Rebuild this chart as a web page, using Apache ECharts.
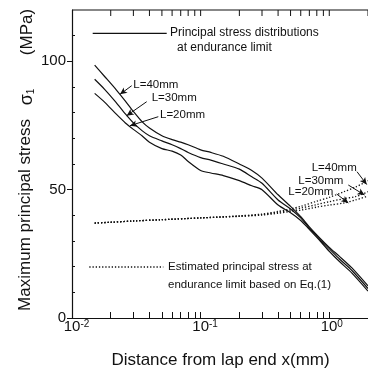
<!DOCTYPE html>
<html><head><meta charset="utf-8">
<script src="https://cdn.jsdelivr.net/npm/echarts@6/dist/echarts.min.js"></script>
<style>html,body{margin:0;padding:0;background:#fff}#c{width:368px;height:374px}</style>
</head><body><div id="c"></div>
<script>
// ---- data ----
const xSolid = [0.015, 0.018, 0.022, 0.026, 0.03, 0.035, 0.04, 0.05, 0.06, 0.07, 0.08, 0.1, 0.12, 0.15, 0.2, 0.25, 0.3, 0.4, 0.5, 0.6, 0.7, 0.85, 1.0, 1.2, 1.5, 2.0];
const solidL40 = [98.5, 94, 89, 84.5, 80.5, 76.5, 74, 71, 69.5, 68.5, 67.5, 65.5, 64.5, 63, 60, 57.5, 54.5, 48, 43.5, 39.5, 35.5, 31, 27.5, 24, 19.5, 12.5];
const solidL30 = [93, 89, 84, 79.5, 76, 73, 71, 69, 67.5, 66, 64.5, 62.5, 61.5, 60, 58, 55, 52.5, 46, 42.5, 39, 35, 30.5, 27, 23, 18.5, 11.5];
const solidL20 = [87.5, 84, 79.5, 76, 73.5, 71, 68.5, 66, 65, 63.5, 61, 57.5, 56.5, 55.5, 53.5, 51.5, 50, 44, 41, 38, 34.5, 30, 26, 22, 17.5, 10.5];

const xEst = [0.015, 0.02, 0.03, 0.05, 0.1, 0.2, 0.3, 0.4, 0.5, 0.6, 0.8, 1.0, 1.3, 1.6, 2.0];
const estL40 = [37, 37.3, 37.8, 38.3, 39, 39.8, 40.5, 41.5, 42.5, 43.5, 45.5, 47, 49.2, 51, 53.5];
const estL30 = [37, 37.3, 37.8, 38.3, 39, 39.7, 40.3, 41.2, 42, 42.8, 44.2, 45.3, 46.5, 47.3, 49.2];
const estL20 = [37, 37.3, 37.8, 38.3, 39, 39.6, 40.1, 40.8, 41.5, 42, 43.2, 44, 44.8, 46, 47.5];

const xLabelValues = [0.01, 0.1, 1];
const xTickValues = [0.02, 0.03, 0.04, 0.05, 0.06, 0.07, 0.08, 0.09, 0.1, 0.2, 0.3, 0.4, 0.5, 0.6, 0.7, 0.8, 0.9, 1, 2];
const yLabelValues = [0, 50, 100];
const yMinorTicks = [10, 20, 30, 40, 60, 70, 80, 90, 110];

// ---- chart ----
const FONT = '"Liberation Sans", Arial, Helvetica, sans-serif';
const INK = '#111';
const X_MIN = 0.01, X_MAX = 2, Y_MIN = 0, Y_MAX = 120;
const chart = echarts.init(document.getElementById('c'), null, {renderer: 'canvas'});
function pairs(xs, ys) { return xs.map((x, i) => [x, ys[i]]); }
function xFmt(v) {
  const e = Math.round(Math.log10(v));
  return (e < 0 ? '{bn|10}' : '{b0|10}') + '{s|' + e + '}';
}

const solidStyle = {color: INK, width: 1.2};
const dotStyle = {color: INK, width: 1.3, type: [1.3, 1.9]};
const tickLine = {color: INK, width: 1};

const graphics = [
  // legend-like keys
  {type: 'line', shape: {x1: 92.7, y1: 33.3, x2: 166.7, y2: 33.3}, style: {stroke: INK, lineWidth: 1.2}},
  {type: 'text', x: 170, y: 33, style: {text: 'Principal stress distributions', font: '12px ' + FONT, fill: INK, textVerticalAlign: 'middle'}},
  {type: 'text', x: 177, y: 48, style: {text: 'at endurance limit', font: '12px ' + FONT, fill: INK, textVerticalAlign: 'middle'}},
  {type: 'line', shape: {x1: 89.3, y1: 267, x2: 163.3, y2: 267}, style: {stroke: INK, lineWidth: 1.3, lineDash: [1.3, 1.9]}},
  {type: 'text', x: 168, y: 267, style: {text: 'Estimated principal stress at', font: '11.5px ' + FONT, fill: INK, textVerticalAlign: 'middle'}},
  {type: 'text', x: 168, y: 285, style: {text: 'endurance limit based on Eq.(1)', font: '11.5px ' + FONT, fill: INK, textVerticalAlign: 'middle'}},
  // curve labels
  {type: 'text', x: 133.3, y: 85, style: {text: 'L=40mm', font: '11.5px ' + FONT, fill: INK, textVerticalAlign: 'middle'}},
  {type: 'text', x: 151.7, y: 98.3, style: {text: 'L=30mm', font: '11.5px ' + FONT, fill: INK, textVerticalAlign: 'middle'}},
  {type: 'text', x: 160, y: 115, style: {text: 'L=20mm', font: '11.5px ' + FONT, fill: INK, textVerticalAlign: 'middle'}},
  {type: 'text', x: 311.7, y: 168.3, style: {text: 'L=40mm', font: '11.5px ' + FONT, fill: INK, textVerticalAlign: 'middle'}},
  {type: 'text', x: 298.3, y: 180.7, style: {text: 'L=30mm', font: '11.5px ' + FONT, fill: INK, textVerticalAlign: 'middle'}},
  {type: 'text', x: 288.3, y: 191.7, style: {text: 'L=20mm', font: '11.5px ' + FONT, fill: INK, textVerticalAlign: 'middle'}},
  // axis titles
  {type: 'text', x: 220.5, y: 360, style: {text: 'Distance from lap end x(mm)', font: '17px ' + FONT, fill: INK, textAlign: 'center', textVerticalAlign: 'middle'}},
  {type: 'text', x: 25, y: 215, rotation: Math.PI / 2, style: {text: 'Maximum principal stress', font: '17px ' + FONT, fill: INK, textAlign: 'center', textVerticalAlign: 'middle'}},
  {type: 'text', x: 27, y: 97, rotation: Math.PI / 2, style: {
    text: '{g|σ}{n|1}', textAlign: 'center', textVerticalAlign: 'middle',
    rich: {g: {fontFamily: FONT, fontSize: 18, fill: INK}, n: {fontFamily: FONT, fontSize: 10, fill: INK, verticalAlign: 'bottom'}}
  }},
  {type: 'text', x: 27, y: 32, rotation: Math.PI / 2, style: {text: '(MPa)', font: '17px ' + FONT, fill: INK, textAlign: 'center', textVerticalAlign: 'middle'}}
];

const option = {
  animation: false,
  backgroundColor: '#fff',
  grid: {left: 72, top: 10, right: -3, bottom: 56},
  xAxis: [
    {
      type: 'log', logBase: 10, min: X_MIN, max: X_MAX, position: 'bottom',
      axisLine: {show: true, lineStyle: {color: INK, width: 1.2}},
      axisTick: {show: true, inside: true, length: 6, customValues: xTickValues, lineStyle: tickLine},
      axisLabel: {
        customValues: xLabelValues, formatter: xFmt, margin: 1, color: INK,
        rich: {
          bn: {fontFamily: FONT, fontSize: 15, color: INK, padding: [0, 0, 0, 9]},
          b0: {fontFamily: FONT, fontSize: 15, color: INK, padding: [0, 0, 0, 5]},
          s: {fontFamily: FONT, fontSize: 10, color: INK, verticalAlign: 'top'}
        }
      },
      splitLine: {show: false}
    }
  ],
  yAxis: [
    {
      type: 'value', min: Y_MIN, max: Y_MAX, position: 'left',
      axisLine: {show: true, lineStyle: {color: INK, width: 1.2}},
      axisTick: {show: true, inside: false, length: 5, customValues: yLabelValues, lineStyle: tickLine},
      axisLabel: {customValues: yLabelValues, margin: 6, color: INK, fontFamily: FONT, fontSize: 15},
      splitLine: {show: false}
    },
    {
      type: 'value', min: Y_MIN, max: Y_MAX, position: 'left', offset: 0,
      axisLine: {show: false},
      axisTick: {show: true, inside: true, length: 3, customValues: yMinorTicks, lineStyle: tickLine},
      axisLabel: {show: false},
      splitLine: {show: false}
    }
  ],
  series: [
    {
      name: 'L=40mm', type: 'line', data: pairs(xSolid, solidL40), smooth: 0.25, showSymbol: false,
      lineStyle: solidStyle, itemStyle: {color: INK},
      markLine: {
        silent: true, animation: false, symbol: ['none', 'arrow'], symbolSize: [5, 7],
        label: {show: false}, lineStyle: {color: INK, width: 1, type: 'solid'},
        data: [
          [{x: 131.7, y: 85.7}, {x: 120, y: 94.3}],
          [{x: 146.7, y: 101.7}, {x: 126.7, y: 115.7}],
          [{x: 158.3, y: 116.7}, {x: 130, y: 125.7}],
          [{x: 357, y: 171.7}, {x: 366.7, y: 184.5}],
          [{x: 348.3, y: 185}, {x: 364.5, y: 195}],
          [{x: 336.7, y: 194}, {x: 348.3, y: 203}]
        ]
      }
    },
    {name: 'L=30mm', type: 'line', data: pairs(xSolid, solidL30), smooth: 0.25, showSymbol: false, lineStyle: solidStyle, itemStyle: {color: INK}},
    {name: 'L=20mm', type: 'line', data: pairs(xSolid, solidL20), smooth: 0.25, showSymbol: false, lineStyle: solidStyle, itemStyle: {color: INK}},
    {name: 'Est L=40mm', type: 'line', data: pairs(xEst, estL40), smooth: 0.3, showSymbol: false, lineStyle: dotStyle, itemStyle: {color: INK}},
    {name: 'Est L=30mm', type: 'line', data: pairs(xEst, estL30), smooth: 0.3, showSymbol: false, lineStyle: dotStyle, itemStyle: {color: INK}},
    {name: 'Est L=20mm', type: 'line', data: pairs(xEst, estL20), smooth: 0.3, showSymbol: false, lineStyle: dotStyle, itemStyle: {color: INK}}
  ],
  graphic: graphics
};
chart.setOption(option);

// Top frame edge with inward ticks, placed through the chart's own x scale.
const topY = chart.convertToPixel({yAxisIndex: 0}, Y_MAX);
const px = v => chart.convertToPixel({xAxisIndex: 0}, v);
const topDeco = [
  {type: 'line', shape: {x1: px(X_MIN), y1: topY, x2: px(X_MAX), y2: topY}, style: {stroke: INK, lineWidth: 1.2}}
].concat(xTickValues.map(v => ({
  type: 'line', shape: {x1: px(v), y1: topY, x2: px(v), y2: topY + 6}, style: {stroke: INK, lineWidth: 1}
})));
chart.setOption({graphic: graphics.concat(topDeco)});
</script>
</body></html>
